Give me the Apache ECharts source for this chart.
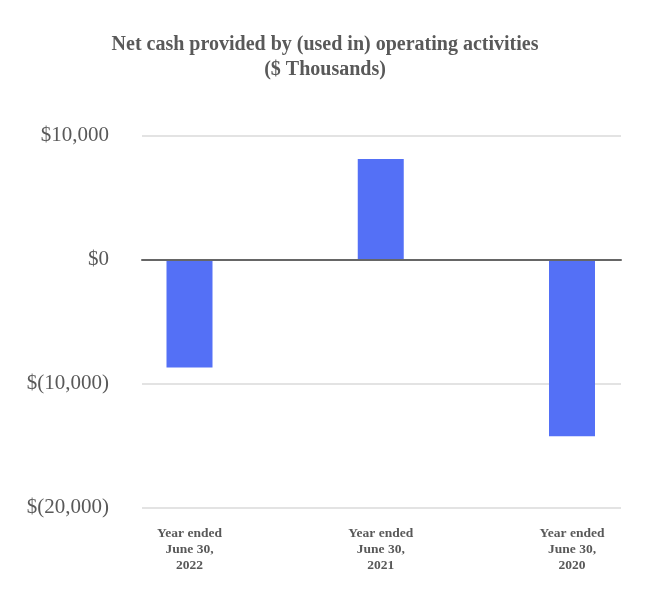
<!DOCTYPE html>
<html>
<head>
<meta charset="utf-8">
<script src="https://cdn.jsdelivr.net/npm/echarts@6/dist/echarts.min.js"></script>
<style>
html,body{margin:0;padding:0;background:#fff;}
#chart{width:650px;height:600px;}
</style>
</head>
<body>
<div id="chart"></div>
<script>
var categories = ['Year ended\nJune 30,\n2022', 'Year ended\nJune 30,\n2021', 'Year ended\nJune 30,\n2020'];
var netCash = [-8700, 8100, -14250];
var yTicks = [-20000, -10000, 0, 10000];
var titleLines = ['Net cash provided by (used in) operating activities', '($ Thousands)'];

function fmt(v) {
  var s = String(Math.abs(v)).replace(/\B(?=(\d{3})+(?!\d))/g, ',');
  return v < 0 ? '$(' + s + ')' : '$' + s;
}

var chart = echarts.init(document.getElementById('chart'), null, {renderer: 'canvas'});
var textColor = '#595959';
var yMin = yTicks[0], yMax = yTicks[yTicks.length - 1], yStep = yTicks[1] - yTicks[0];

chart.setOption({
  animation: false,
  backgroundColor: '#ffffff',
  title: {
    text: titleLines.join('\n'),
    left: 'center',
    top: 27,
    textStyle: {
      fontFamily: 'Liberation Serif',
      fontWeight: 'bold',
      fontSize: 20,
      lineHeight: 25,
      color: textColor
    }
  },
  grid: [
    {left: 142, right: 29, top: 135.5, bottom: 92.5},
    {left: 189.5, right: 78, top: 135.5, bottom: 92.5}
  ],
  xAxis: [
    {
      gridIndex: 0,
      type: 'category',
      data: categories,
      axisLine: {show: true, onZero: true, lineStyle: {color: '#666666', width: 2}},
      axisTick: {show: false},
      axisLabel: {show: false},
      splitLine: {show: false},
      z: 5
    },
    {
      gridIndex: 1,
      type: 'category',
      data: categories,
      boundaryGap: false,
      axisLine: {show: false},
      axisTick: {show: false},
      splitLine: {show: false},
      axisLabel: {
        interval: 0,
        margin: 18,
        fontFamily: 'Liberation Serif',
        fontWeight: 'bold',
        fontSize: 13.5,
        lineHeight: 16,
        color: textColor,
        align: 'center'
      }
    }
  ],
  yAxis: [
    {
      gridIndex: 0,
      type: 'value',
      min: yMin,
      max: yMax,
      interval: yStep,
      axisLine: {show: false},
      axisTick: {show: false},
      axisLabel: {
        margin: 33,
        padding: [6, 0, 0, 0],
        fontFamily: 'Liberation Serif',
        fontSize: 21,
        color: textColor,
        formatter: fmt
      },
      splitLine: {lineStyle: {color: '#e3e3e3', width: 2}}
    },
    {
      gridIndex: 1,
      type: 'value',
      min: yMin,
      max: yMax,
      interval: yStep,
      show: false,
      splitLine: {show: false}
    }
  ],
  series: [
    {
      type: 'bar',
      xAxisIndex: 1,
      yAxisIndex: 1,
      data: netCash,
      barWidth: 46,
      itemStyle: {color: '#5470F6'},
      z: 2
    }
  ]
});
</script>
</body>
</html>
